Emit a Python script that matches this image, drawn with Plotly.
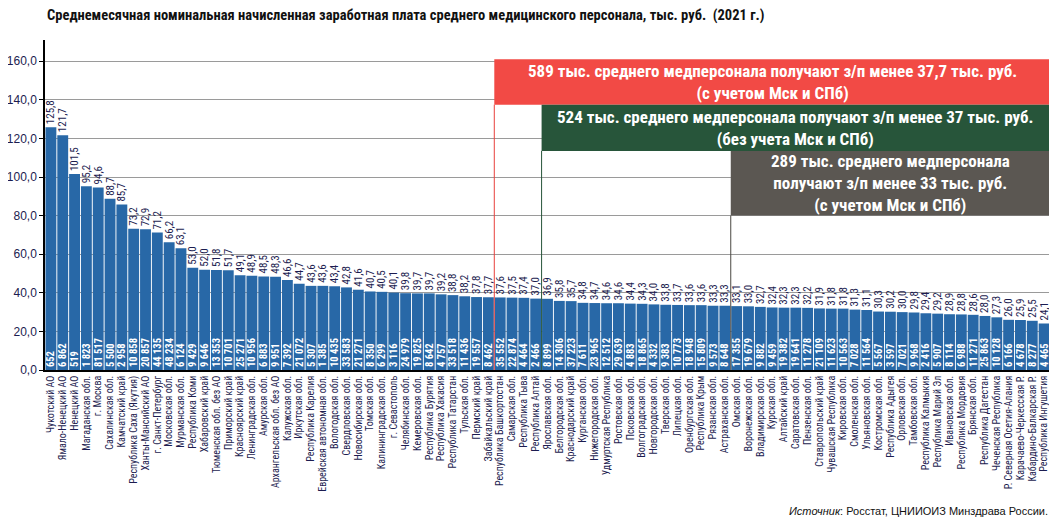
import plotly.graph_objects as go

regions = [
    "Чукотский АО", "Ямало-Ненецкий АО", "Ненецкий АО", "Магаданская обл.", "г. Москва",
    "Сахалинская обл.", "Камчатский край", "Республика Саха (Якутия)", "Ханты-Мансийский АО",
    "г. Санкт-Петербург", "Московская обл.", "Мурманская обл.", "Республика Коми",
    "Хабаровский край", "Тюменская обл. без АО", "Приморский край", "Красноярский край",
    "Ленинградская обл.", "Амурская обл.", "Архангельская обл. без АО", "Калужская обл.",
    "Иркутская обл.", "Республика Карелия", "Еврейская автономная обл.", "Вологодская обл.",
    "Свердловская обл.", "Новосибирская обл.", "Томская обл.", "Калининградская обл.",
    "г. Севастополь", "Челябинская обл.", "Кемеровская обл.", "Республика Бурятия",
    "Республика Хакасия", "Республика Татарстан", "Тульская обл.", "Пермский край",
    "Забайкальский край", "Республика Башкортостан", "Самарская обл.", "Республика Тыва",
    "Республика Алтай", "Ярославская обл.", "Белгородская обл.", "Краснодарский край",
    "Курганская обл.", "Нижегородская обл.", "Удмуртская Республика", "Ростовская обл.",
    "Псковская обл.", "Волгоградская обл.", "Новгородская обл.", "Тверская обл.",
    "Липецкая обл.", "Оренбургская обл.", "Республика Крым", "Рязанская обл.",
    "Астраханская обл.", "Омская обл.", "Воронежская обл.", "Владимирская обл.",
    "Курская обл.", "Алтайский край", "Саратовская обл.", "Пензенская обл.",
    "Ставропольский край", "Чувашская Республика", "Кировская обл.", "Смоленская обл.",
    "Ульяновская обл.", "Костромская обл.", "Республика Адыгея", "Орловская обл.",
    "Тамбовская обл.", "Республика Калмыкия", "Республика Марий Эл", "Ивановская обл.",
    "Республика Мордовия", "Брянская обл.", "Республика Дагестан", "Чеченская Республика",
    "Р. Северная Осетия-Алания", "Карачаево-Черкесская Р.", "Кабардино-Балкарская Р.",
    "Республика Ингушетия",
]

salary = [
    125.8, 121.7, 101.5, 95.2, 94.6, 88.7, 85.7, 73.2, 72.9, 71.2, 66.2, 63.1, 53.0, 52.0,
    51.8, 51.7, 49.1, 48.9, 48.5, 48.3, 46.6, 44.7, 43.6, 43.6, 43.4, 42.8, 41.6, 40.7,
    40.5, 40.1, 39.8, 39.7, 39.7, 39.2, 38.8, 38.2, 37.8, 37.7, 37.6, 37.5, 37.4, 37.0,
    36.9, 35.8, 35.7, 34.8, 34.7, 34.6, 34.6, 34.4, 34.3, 34.0, 33.8, 33.7, 33.6, 33.6,
    33.3, 33.3, 33.1, 33.0, 32.7, 32.4, 32.3, 32.3, 32.2, 31.9, 31.8, 31.8, 31.3, 31.1,
    30.3, 30.2, 30.0, 29.8, 29.4, 29.2, 28.9, 28.8, 28.6, 28.0, 27.3, 26.0, 25.9, 25.5,
    24.1,
]

staff = [
    652, 6862, 519, 1823, 81517, 5500, 2958, 10858, 20857, 44135, 48234, 6124, 9429, 9646,
    13353, 10701, 25271, 10956, 6883, 9951, 7392, 21072, 5307, 1385, 10435, 33583, 21271,
    8350, 6299, 3116, 24979, 19825, 8642, 4757, 33518, 11436, 19557, 8462, 35552, 22874,
    4464, 2466, 8899, 14306, 37223, 7611, 23965, 12512, 29639, 4883, 18865, 4332, 9383,
    10773, 18948, 15809, 9573, 8648, 17355, 19679, 9882, 9459, 19382, 19641, 11278, 21109,
    11623, 10563, 7028, 11564, 5567, 3597, 7021, 9968, 2416, 5907, 8114, 6988, 11271,
    25863, 10128, 6166, 4678, 8277, 4465,
]

y_ticks = [0, 20, 40, 60, 80, 100, 120, 140, 160]

boxes = [
    {"text": "589 тыс. среднего медперсонала получают з/п менее 37,7 тыс. руб.<br>(с учетом Мск и СПб)",
     "split": 37.5, "y0": 137.5, "y1": 161.0, "fill": "#f24a45", "line": "#e8403c"},
    {"text": "524 тыс. среднего медперсонала получают з/п менее 37 тыс. руб.<br>(без учета Мск и СПб)",
     "split": 41.5, "y0": 113.5, "y1": 137.5, "fill": "#27553a", "line": "#27553a"},
    {"text": "289 тыс. среднего медперсонала<br>получают з/п менее 33 тыс. руб.<br>(с учетом Мск и СПб)",
     "split": 57.5, "y0": 80.0, "y1": 113.5, "fill": "#5b5752", "line": "#4a4742"},
]

NARROW = "Liberation Sans Narrow, Arial Narrow, Roboto Condensed, sans-serif"
TXT = "#1c1c50"

x = list(range(len(regions)))
val_txt = [f"{v:.1f}".replace(".", ",") for v in salary]
staff_txt = [f"{s:,}".replace(",", " ") for s in staff]

fig = go.Figure()
fig.add_trace(go.Bar(
    x=x, y=salary, marker=dict(color="#2868a7", line=dict(width=0)),
    text=staff_txt, textposition="inside", insidetextanchor="start", textangle=-90,
    constraintext="none",
    textfont=dict(family=NARROW, size=10.5, color="white", weight="bold"),
    hoverinfo="skip",
))
fig.add_trace(go.Bar(
    x=x, y=salary, marker=dict(color="rgba(0,0,0,0)", line=dict(width=0)),
    text=val_txt, textposition="outside", textangle=-90, constraintext="none",
    textfont=dict(family=NARROW, size=11, color=TXT), cliponaxis=False,
    hoverinfo="skip",
))

xmax = len(regions) - 0.5
for b in boxes:
    fig.add_shape(type="rect", xref="x", yref="y", x0=b["split"], x1=xmax,
                  y0=b["y0"], y1=b["y1"], fillcolor=b["fill"], line=dict(width=0), layer="above")
    fig.add_shape(type="line", xref="x", yref="y", x0=b["split"], x1=b["split"],
                  y0=0, y1=b["y0"], line=dict(color=b["line"], width=1), layer="above")
    fig.add_annotation(x=(b["split"] + xmax) / 2, y=(b["y0"] + b["y1"]) / 2, xref="x", yref="y",
                       text=b["text"], showarrow=False,
                       font=dict(family=NARROW, size=17, color="white", weight="bold"),
                       align="center", xanchor="center", yanchor="middle")

fig.add_annotation(
    x=0, y=1, xref="paper", yref="paper", xanchor="left", yanchor="bottom", yshift=14,
    text="Среднемесячная номинальная начисленная заработная плата среднего медицинского персонала, тыс. руб.  (2021 г.)",
    showarrow=False, font=dict(family=NARROW, size=14.5, color="#111111", weight="bold"),
)
fig.add_annotation(
    x=1, y=0, xref="paper", yref="paper", xanchor="right", yanchor="top", yshift=-133,
    text="<i>Источник</i>: Росстат, ЦНИИОИЗ Минздрава России.",
    showarrow=False, font=dict(family="Liberation Sans, Arial, sans-serif", size=11, color="#111111"),
)

fig.update_layout(
    width=1049, height=516, margin=dict(l=37, r=7, t=32, b=154, autoexpand=False),
    paper_bgcolor="white", plot_bgcolor="white", showlegend=False,
    barmode="overlay", bargap=0.08,
    xaxis=dict(range=[-0.5, xmax], tickmode="array", tickvals=x, ticktext=regions,
               tickangle=-90, tickfont=dict(family=NARROW, size=10, color=TXT),
               showline=True, linecolor="black", linewidth=1.5, showgrid=False,
               ticks="", fixedrange=True, automargin=False),
    yaxis=dict(range=[0, 171], tickmode="array", tickvals=y_ticks,
               ticktext=[f"{t:.1f}".replace(".", ",") for t in y_ticks],
               tickfont=dict(family="Liberation Sans, Arial, sans-serif", size=12, color=TXT),
               showline=True, linecolor="black", linewidth=1.5, ticks="outside", ticklen=4,
               tickcolor="black", showgrid=True, gridcolor="#9a9a9a", gridwidth=1,
               zeroline=False, fixedrange=True, automargin=False),
)

fig.write_html("out.html")
